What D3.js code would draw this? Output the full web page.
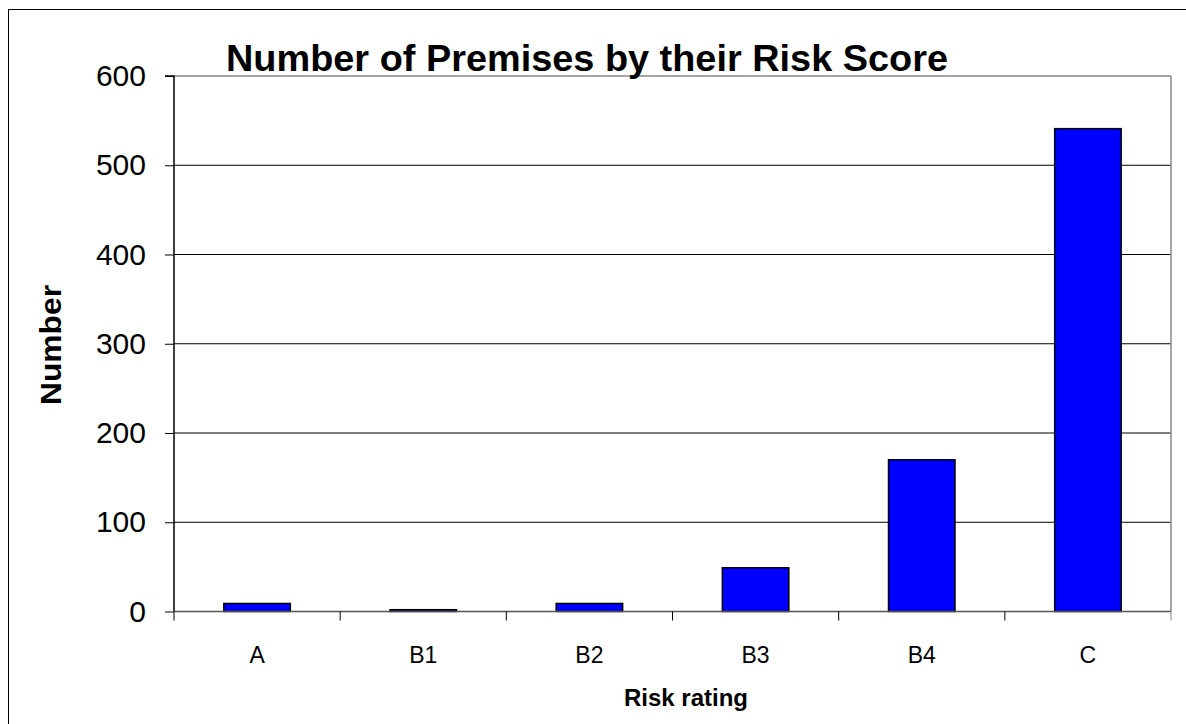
<!DOCTYPE html>
<html><head><meta charset="utf-8">
<script src="https://cdn.jsdelivr.net/npm/d3@7"></script>
<style>body{margin:0;background:#fff}svg{display:block}text{font-family:"Liberation Sans",Arial,sans-serif}</style>
</head><body>
<script>
const categories = ["A","B1","B2","B3","B4","C"];
const values = [9, 2, 9, 49, 170, 541];
const yTicks = [0,100,200,300,400,500,600];

const W = 1186, H = 724;
const svg = d3.select("body").append("svg").attr("width", W).attr("height", H);
svg.append("rect").attr("x",8.5).attr("y",9.5).attr("width",1300).attr("height",900)
  .attr("fill","#fff").attr("stroke","#000").attr("stroke-width",1);

const L = 174, R = 1171, T = 76, B = 611.5;
const x = d3.scaleBand().domain(categories).range([L, R]).paddingInner(0.6).paddingOuter(0.3);
const y = d3.scaleLinear().domain([0, 600]).range([B, T]);

// gridlines
svg.append("g").selectAll("line").data(yTicks.filter(d => d > 0 && d < 600)).join("line")
  .attr("x1", L).attr("x2", R).attr("y1", d => y(d)).attr("y2", d => y(d))
  .attr("stroke", "#000").attr("stroke-width", 1);
// top & right plot border (gray)
svg.append("line").attr("x1", L).attr("x2", R).attr("y1", y(600)).attr("y2", y(600)).attr("stroke","#888").attr("stroke-width",1.5);
svg.append("line").attr("x1", R).attr("x2", R).attr("y1", T).attr("y2", B).attr("stroke","#888").attr("stroke-width",1.5);

// bars
svg.append("g").selectAll("rect").data(categories).join("rect")
  .attr("x", d => x(d)).attr("width", x.bandwidth())
  .attr("y", (d,i) => y(values[i])).attr("height", (d,i) => B - y(values[i]))
  .attr("fill", "#0000ff").attr("stroke", "#000").attr("stroke-width", 1.5);

// y axis
const yAxis = d3.axisLeft(y).tickValues(yTicks).tickSize(9).tickPadding(19).tickFormat(d3.format("d"));
const gy = svg.append("g").attr("transform", `translate(${L},0)`).call(yAxis);
gy.select(".domain").attr("stroke","#000").attr("stroke-width",1.5).attr("d", `M-9,${T}H0V${B}`);
gy.selectAll(".tick line").attr("stroke","#000").attr("stroke-width",1);
gy.selectAll(".tick text").attr("font-size", 30).attr("fill","#000").attr("font-family","Liberation Sans, Arial, sans-serif");

// x axis: ticks at band boundaries
const bounds = d3.range(categories.length + 1).map(i => L + i * (R - L) / categories.length);
const gx = svg.append("g");
gx.append("line").attr("x1", L).attr("x2", R).attr("y1", B).attr("y2", B).attr("stroke","#555").attr("stroke-width",1.5);
gx.selectAll("line.tk").data(bounds).join("line").attr("class","tk")
  .attr("x1", d => d).attr("x2", d => d).attr("y1", B).attr("y2", B + 9)
  .attr("stroke", (d,i) => i === categories.length ? "#888" : "#000").attr("stroke-width", 1);
gx.selectAll("text").data(categories).join("text")
  .attr("x", d => x(d) + x.bandwidth()/2).attr("y", 663)
  .attr("text-anchor","middle").attr("font-size", 23).text(d => d);

// titles
svg.append("text").attr("x", 587).attr("y", 71).attr("text-anchor","middle")
  .attr("font-size", 36).attr("font-weight","bold")
  .attr("textLength", 722).attr("lengthAdjust","spacingAndGlyphs")
  .text("Number of Premises by their Risk Score");
svg.append("text").attr("x", 686).attr("y", 706).attr("text-anchor","middle")
  .attr("font-size", 24).attr("font-weight","bold").text("Risk rating");
svg.append("text").attr("transform", "translate(61,345) rotate(-90)").attr("text-anchor","middle")
  .attr("font-size", 30).attr("font-weight","bold")
  .attr("textLength", 120).attr("lengthAdjust","spacingAndGlyphs").text("Number");
</script>
</body></html>
